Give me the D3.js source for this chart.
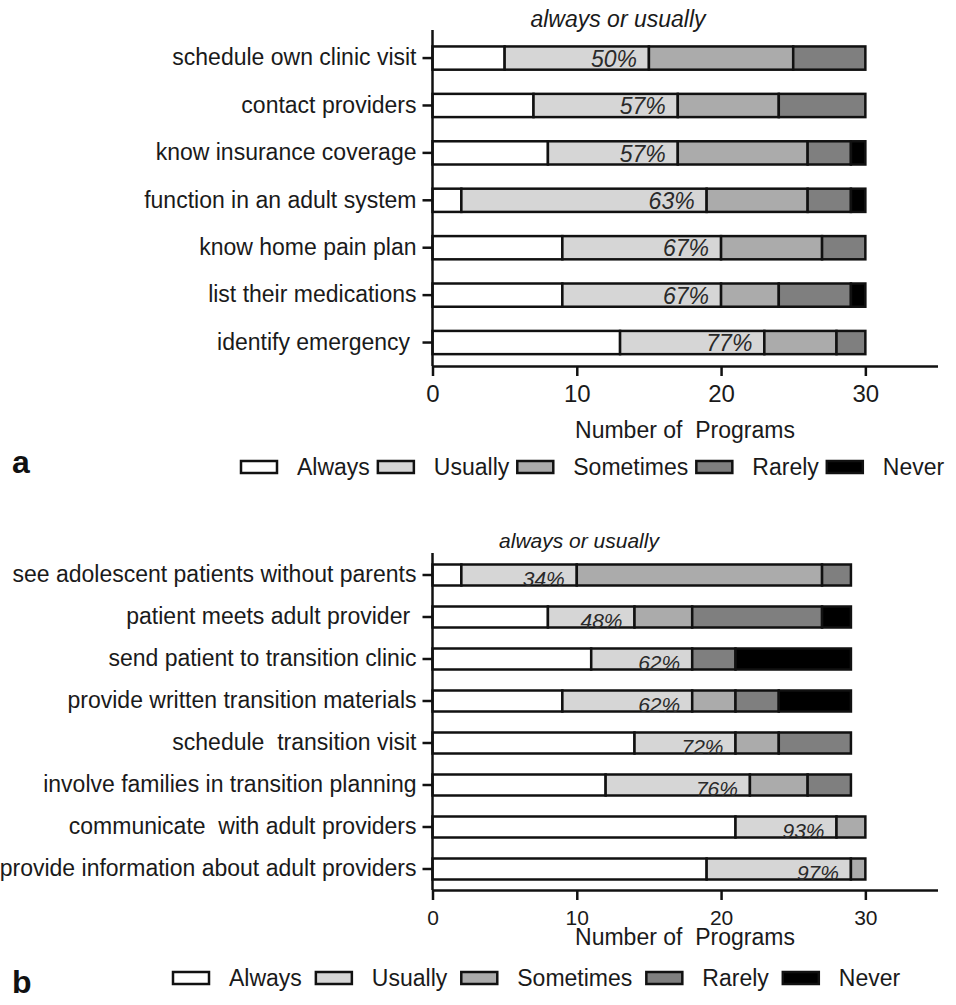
<!DOCTYPE html>
<html>
<head>
<meta charset="utf-8">
<script src="https://cdn.jsdelivr.net/npm/d3@7"></script>
<style>
  body { margin: 0; background: #fff; }
  svg text { font-family: "Liberation Sans", Arial, sans-serif; fill: #1a1a1a; white-space: pre; }
</style>
</head>
<body>
<svg id="chart" width="956" height="1005"></svg>
<script>
// response levels, stacked left to right
const levels = ["Always", "Usually", "Sometimes", "Rarely", "Never"];
const levelColors = ["#ffffff", "#d6d6d6", "#ababab", "#7f7f7f", "#000000"];

// panel a - patient skills
const catsA = ["schedule own clinic visit", "contact providers", "know insurance coverage",
  "function in an adult system", "know home pain plan", "list their medications", "identify emergency "];
const alwaysA    = [5, 7, 8, 2, 9, 9, 13];
const usuallyA   = [10, 10, 9, 17, 11, 11, 10];
const sometimesA = [10, 7, 9, 7, 7, 4, 5];
const rarelyA    = [5, 6, 3, 3, 3, 5, 2];
const neverA     = [0, 0, 1, 1, 0, 1, 0];
const pctA = ["50%", "57%", "57%", "63%", "67%", "67%", "77%"];

// panel b - program practices
const catsB = ["see adolescent patients without parents", "patient meets adult provider ",
  "send patient to transition clinic", "provide written transition materials", "schedule  transition visit",
  "involve families in transition planning", "communicate  with adult providers",
  "provide information about adult providers"];
const alwaysB    = [2, 8, 11, 9, 14, 12, 21, 19];
const usuallyB   = [8, 6, 7, 9, 7, 10, 7, 10];
const sometimesB = [17, 4, 0, 3, 3, 4, 2, 1];
const rarelyB    = [2, 9, 3, 3, 5, 3, 0, 0];
const neverB     = [0, 2, 8, 5, 0, 0, 0, 0];
const pctB = ["34%", "48%", "62%", "62%", "72%", "76%", "93%", "97%"];

const xTicks = [0, 10, 20, 30];

const svg = d3.select('#chart');
const x = d3.scaleLinear().domain([0, 35]).range([432.5, 937.5]);

function drawPanel(p) {
  const g = svg.append('g');
  const rows = p.cats.map((c, i) => ({
    cat: c, Always: p.series[0][i], Usually: p.series[1][i], Sometimes: p.series[2][i],
    Rarely: p.series[3][i], Never: p.series[4][i]
  }));

  const y = d3.scaleBand()
    .domain(p.cats)
    .range(p.yRange)
    .paddingInner(p.padIn)
    .paddingOuter(p.padOut);

  const stacked = d3.stack().keys(levels)(rows);

  g.selectAll('g.layer')
    .data(stacked)
    .join('g')
    .attr('class', 'layer')
    .attr('fill', (d, i) => levelColors[i])
    .selectAll('rect')
    .data(d => d.filter(s => s[1] > s[0]))
    .join('rect')
    .attr('x', d => x(d[0]))
    .attr('width', d => x(d[1]) - x(d[0]))
    .attr('y', d => y(d.data.cat))
    .attr('height', y.bandwidth())
    .attr('stroke', '#111')
    .attr('stroke-width', 2.5);

  // percentage always + usually
  g.selectAll('text.pct')
    .data(rows)
    .join('text')
    .attr('class', 'pct')
    .attr('x', d => x(d.Always + d.Usually) - p.pctGap)
    .attr('y', d => y(d.cat) + y.bandwidth() - p.pctLift)
    .attr('text-anchor', 'end')
    .attr('font-style', 'italic')
    .attr('font-size', p.pctSize)
    .style('fill', '#2a2a2a')
    .text((d, i) => p.pct[i]);

  // y axis
  const ya = g.append('g')
    .attr('transform', `translate(${x(0)},0)`)
    .call(d3.axisLeft(y).tickSize(10).tickPadding(6).tickSizeOuter(0));
  ya.select('.domain').attr('d', `M0,${p.axisTop}V${p.yRange[1]}`);
  ya.selectAll('line, path').attr('stroke', '#111').attr('stroke-width', 2.5);
  ya.selectAll('text').attr('font-size', 23).attr('font-family', null).style('fill', '#1a1a1a');

  // x axis
  const xa = g.append('g')
    .attr('transform', `translate(0,${p.yRange[1]})`)
    .call(d3.axisBottom(x).tickValues(xTicks).tickSize(10).tickPadding(p.xPad).tickSizeOuter(0));
  xa.selectAll('line, path').attr('stroke', '#111').attr('stroke-width', 2.5);
  xa.selectAll('text').attr('font-size', p.tickSize).attr('font-family', null).style('fill', '#1a1a1a');

  g.append('text')
    .attr('x', (x.range()[0] + x.range()[1]) / 2)
    .attr('y', p.titleY)
    .attr('text-anchor', 'middle')
    .attr('font-size', 23)
    .text('Number of  Programs');

  g.append('text')
    .attr('x', p.noteX)
    .attr('y', p.noteY)
    .attr('text-anchor', 'middle')
    .attr('font-style', 'italic')
    .attr('font-size', p.noteSize)
    .text('always or usually');

  g.append('text')
    .attr('x', 12)
    .attr('y', p.letterY)
    .attr('font-weight', 'bold')
    .attr('font-size', 32)
    .style('fill', '#111')
    .text(p.letter);

  // legend
  let lx = p.legX;
  const leg = g.append('g');
  levels.forEach((lv, i) => {
    leg.append('rect')
      .attr('x', lx).attr('y', p.legY - 6)
      .attr('width', 36).attr('height', 12)
      .attr('fill', levelColors[i])
      .attr('stroke', '#111').attr('stroke-width', 2.5);
    lx += 36 + 20;
    const t = leg.append('text')
      .attr('x', lx).attr('y', p.legY + 8)
      .attr('font-size', 23)
      .text(lv);
    lx += t.node().getComputedTextLength() + p.legGap;
  });
}

drawPanel({
  cats: catsA, series: [alwaysA, usuallyA, sometimesA, rarelyA, neverA], pct: pctA,
  yRange: [34.6, 366], padIn: 0.51, padOut: 0.25, axisTop: 30,
  pctSize: 23, pctLift: 3, pctGap: 12, tickSize: 24, xPad: 9, titleY: 438,
  noteX: 618, noteY: 27, noteSize: 23, letter: 'a', letterY: 473,
  legX: 241, legY: 467, legGap: 8
});

drawPanel({
  cats: catsB, series: [alwaysB, usuallyB, sometimesB, rarelyB, neverB], pct: pctB,
  yRange: [554, 890], padIn: 0.5, padOut: 0.25, axisTop: 553,
  pctSize: 21, pctLift: 0, pctGap: 12, tickSize: 21, xPad: 10, titleY: 945,
  noteX: 579, noteY: 548, noteSize: 21, letter: 'b', letterY: 993,
  legX: 173, legY: 978, legGap: 14
});
</script>
</body>
</html>
